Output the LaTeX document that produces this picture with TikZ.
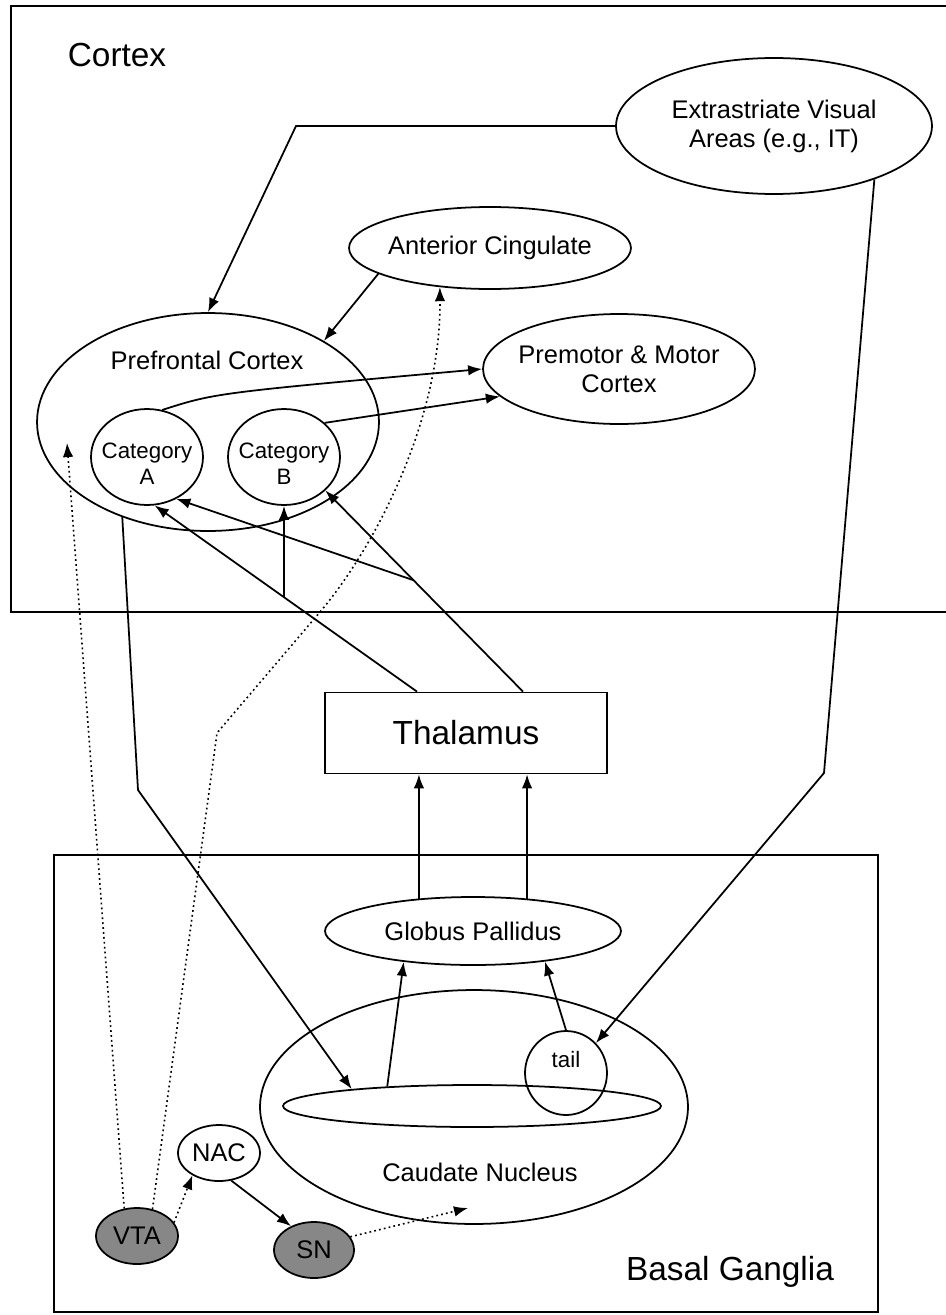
\documentclass[tikz,border=0pt]{standalone}
\usepackage{fontspec}
\setmainfont{Liberation Sans}
\usetikzlibrary{shapes.geometric,arrows.meta}
\newcommand{\fbig}{\fontsize{19}{23}\selectfont}
\newcommand{\fmid}{\fontsize{14.5}{16.5}\selectfont}
\newcommand{\fsml}{\fontsize{12.7}{15}\selectfont}

\begin{document}
\begin{tikzpicture}[x=0.02cm,y=-0.02cm,line width=1pt,
  area/.style={ellipse,draw,inner sep=0pt,font=\fmid,align=center},
  nucl/.style={area,fill=black!47},
  every label/.append style={font=\fmid,align=center},
  arr/.style={-{Latex[length=8pt,width=6pt]}},
  dots/.style={dash pattern=on 1pt off 1.8pt,line width=0.9pt,-{Latex[length=8pt,width=6pt]}}]
\useasboundingbox (0,0) rectangle (946,1315);
%\draw[step=50,gray,very thin] (0,0) grid (946,1315); %background grid
\draw (946,6) -- (11,6) -- (11,612) -- (946,612); %cortex
\draw (54,855) rectangle (878,1312); %basal ganglia
\node[font=\fbig] (ctxlbl) at (117,55) {Cortex};
\node[font=\fbig] (bglbl) at (730,1272) {Basal Ganglia};
% cortex
\node[area,minimum width=6.32cm,minimum height=2.72cm] (evis) at (774,126) {Extrastriate Visual\\ Areas (e.g., IT)};
\node[area,minimum width=5.64cm,minimum height=1.64cm,label=center:Anterior Cingulate] (acc) at (490,248) {};
\node[area,minimum width=6.84cm,minimum height=4.36cm] (pfc) at (208,422) {};
\node[font=\fmid] (pfclbl) at (207,360) {Prefrontal Cortex};
\node[area,minimum width=5.44cm,minimum height=2.2cm,label={center:Premotor \& Motor\\Cortex}] (pmc) at (619,369) {};
\node[area,minimum width=2.24cm,minimum height=1.92cm,label={[font=\fsml,yshift=-0.14cm]center:Category\\A}] (catA) at (147,457) {};
\node[area,minimum width=2.24cm,minimum height=1.92cm,label={[font=\fsml,yshift=-0.14cm]center:Category\\B}] (catB) at (284,457) {};
\node[draw,minimum width=5.64cm,minimum height=1.62cm,font=\fbig] (thal) at (466,733) {Thalamus};
% basal ganglia
\node[area,minimum width=5.92cm,minimum height=1.36cm] (gp) at (473,931) {Globus Pallidus};
\node[area,minimum width=8.56cm,minimum height=4.68cm] (cdn) at (474,1107) {};
\node[font=\fmid] (cdnlbl) at (480,1172) {Caudate Nucleus};
\node[area,minimum width=7.56cm,minimum height=0.84cm] (body) at (472,1106) {};
\node[area,minimum width=1.64cm,minimum height=1.68cm,label={[font=\fsml,yshift=0.26cm]center:tail}] (tail) at (566,1073) {};
\node[area,minimum width=1.64cm,minimum height=1.12cm] (nac) at (219,1153) {NAC};
\node[nucl,minimum width=1.64cm,minimum height=1.12cm] (vta) at (137,1236) {VTA};
\node[nucl,minimum width=1.6cm,minimum height=1.12cm] (sn) at (314,1250) {SN};
% bends
\coordinate (evisbend) at (296,126);
\coordinate (tailbend) at (824,773);
\coordinate (pfcbend) at (138,790);
\coordinate (pfcin) at (67,443);
\coordinate (accbend) at (217,733);
\coordinate (accbend2) at (320,612);
\coordinate (cdnin) at (468,1208);
% pathways
\draw[arr] (evis.west) -- (evisbend) -- (pfc.north);
\draw[arr] (evis.-28) -- (tailbend) -- (tail.45);
\draw[arr] (acc.193) -- (pfc.35);
\draw[arr] (catA.72) .. controls (215,393) .. (pmc.west);
\draw[arr] (catB.40) -- (pmc.193);
\draw[arr] ([xshift=-0.98cm]thal.north) -- coordinate[pos=0.508] (splitA) (catA.279);
\draw[arr] (catB.south |- splitA) -- (catB.south);
\draw[arr] ([xshift=1.14cm]thal.north) -- coordinate[pos=0.554] (splitB) (catB.321);
\draw[arr] (splitB) -- (catA.305);
\draw[arr] (gp.149) -- (gp.149 |- thal.south);
\draw[arr] (gp.31) -- (gp.31 |- thal.south);
\draw[arr] (body.167) -- (gp.204);
\draw[arr] (tail.north) -- (gp.337);
\draw[arr] (pfc.228) -- (pfcbend) -- (body.172);
\draw[arr] (nac.294) -- (sn.134);
% dopamine
\draw[dots] (vta.115) -- (pfcin);
\draw[dots] (vta.60) -- (accbend) -- (accbend2) .. controls (375,547) and (441,420) .. (acc.218);
\draw[dots] (vta.20) -- (nac.220);
\draw[dots] (sn.20) -- (cdnin);
\end{tikzpicture}
\end{document}
